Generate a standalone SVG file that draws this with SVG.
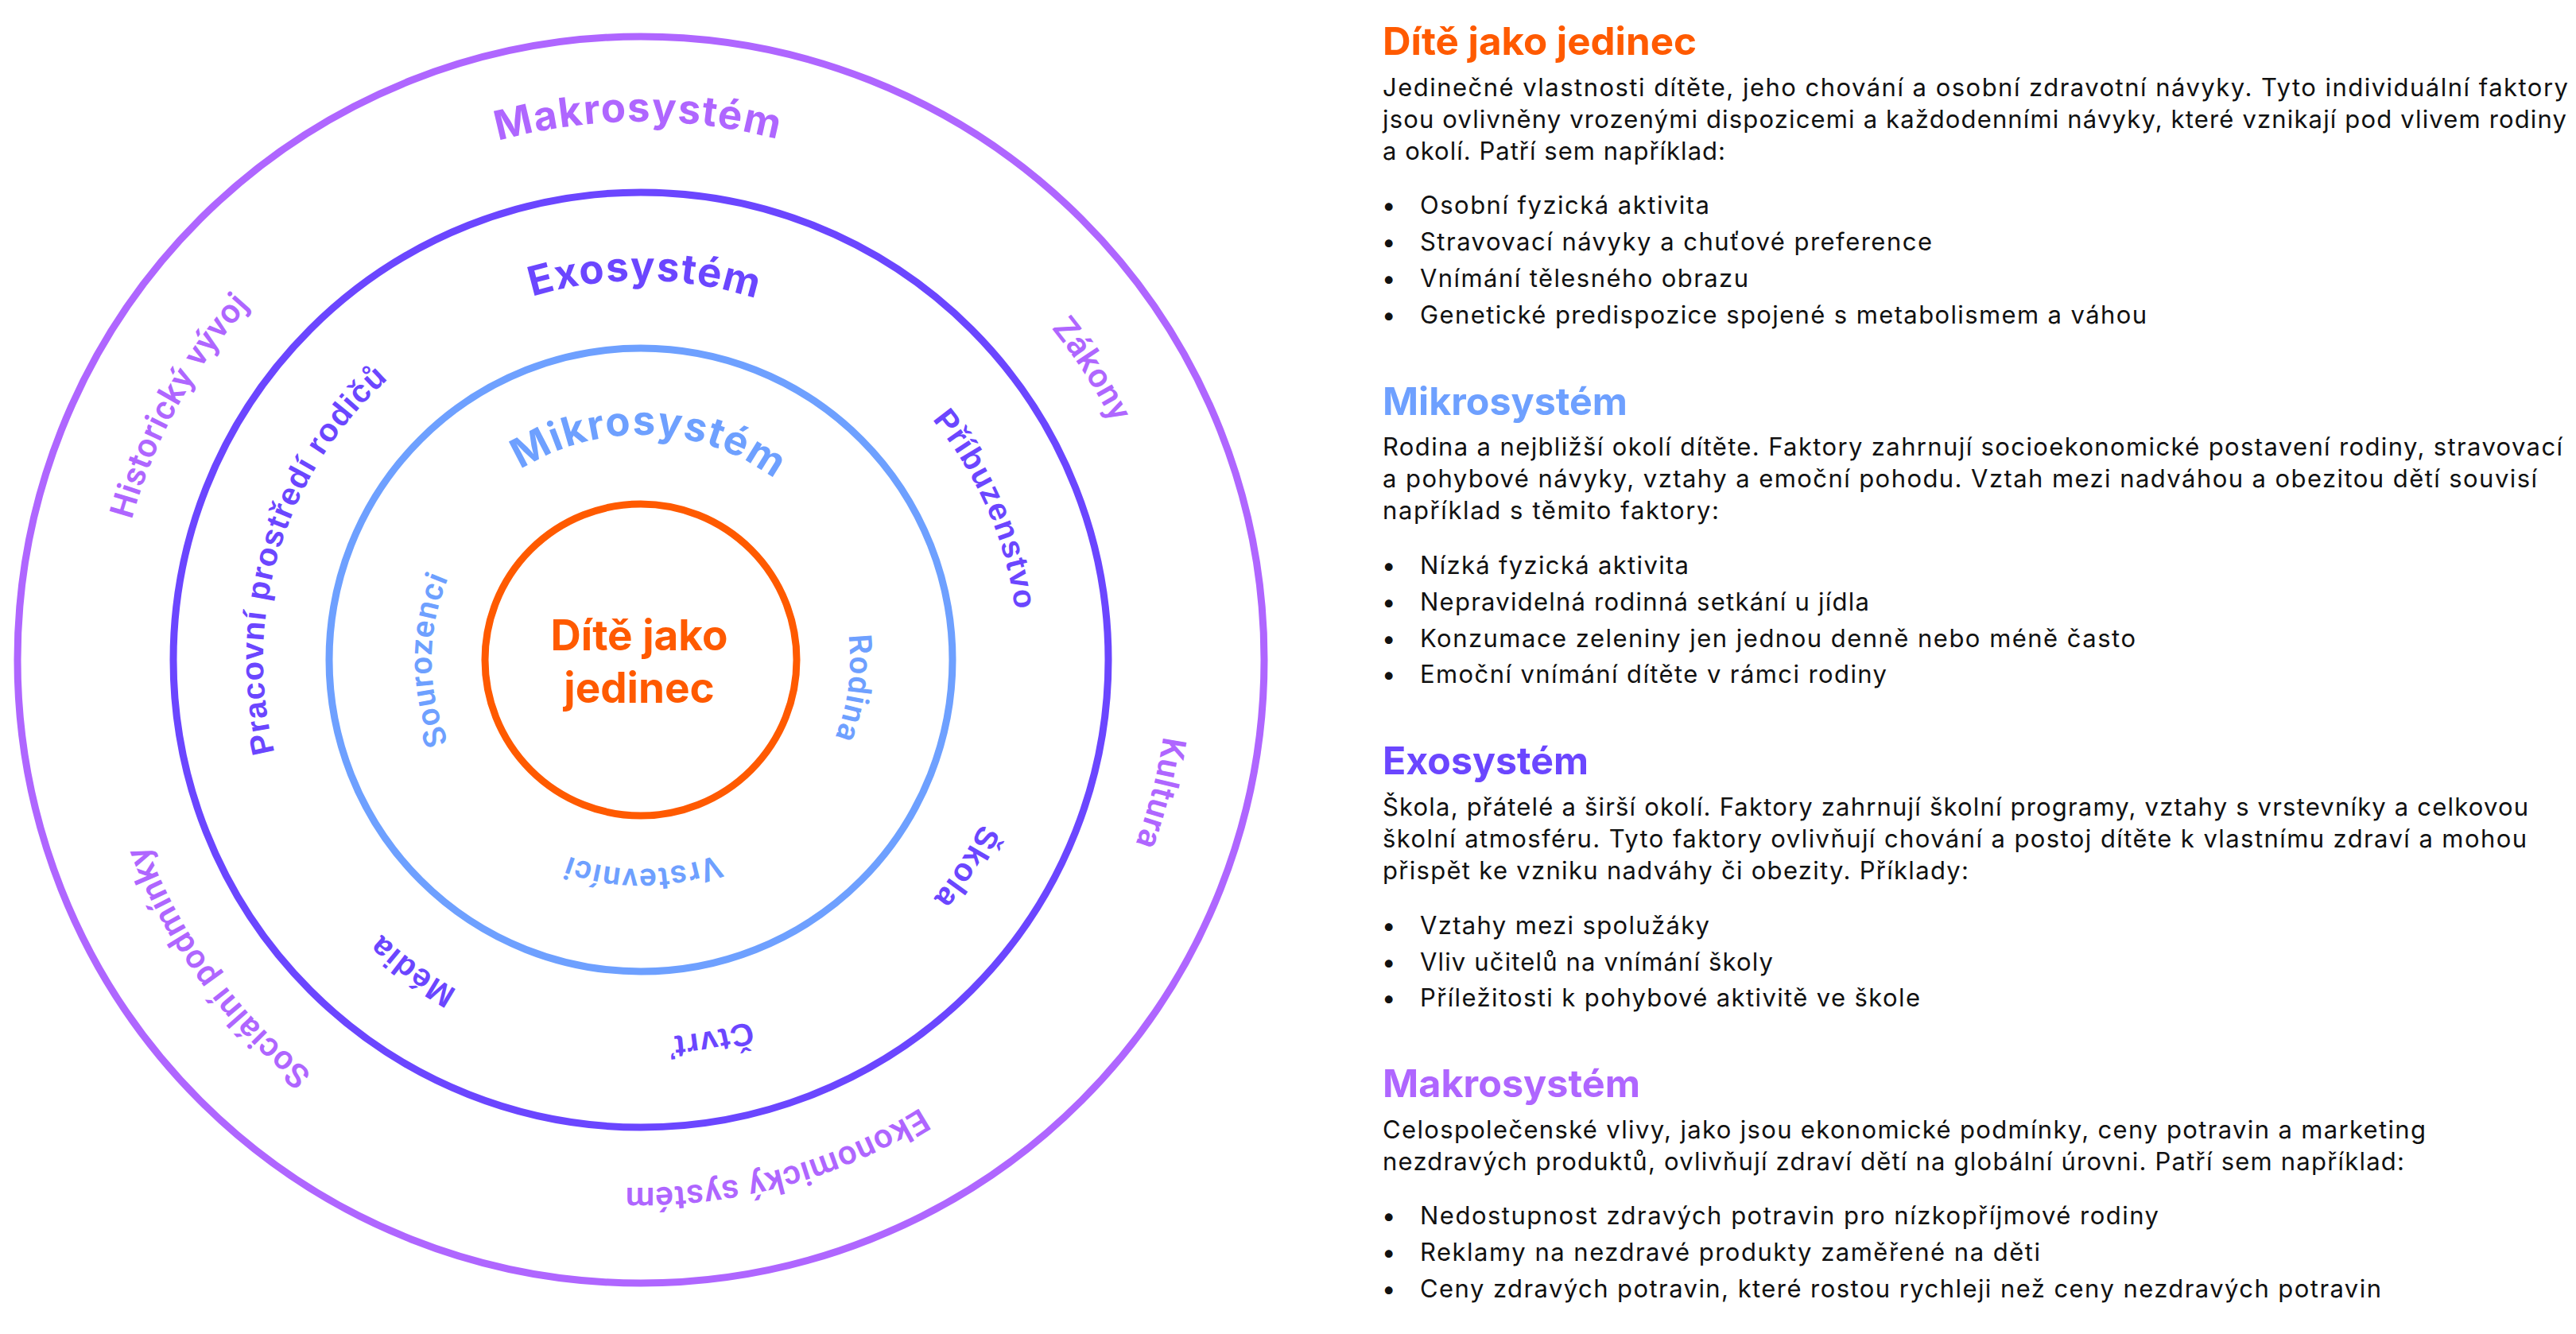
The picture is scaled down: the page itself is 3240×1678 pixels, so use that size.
<svg xmlns="http://www.w3.org/2000/svg" xmlns:xlink="http://www.w3.org/1999/xlink" width="3240" height="1678" viewBox="0 0 3240 1678">
<style>
.ring{fill:none;stroke-width:9}
.title{font-family:Inter,"Liberation Sans",sans-serif;font-weight:700;font-size:51px;letter-spacing:1.5px}
.lo{font-family:Roboto,"Liberation Sans",sans-serif;font-weight:600;font-size:42px;letter-spacing:0.8px;fill:#AF66FF}
.le{font-family:"Liberation Sans",Arial,sans-serif;font-weight:700;font-size:40px;letter-spacing:1.2px;fill:#6B46FF}
.lm{font-family:Roboto,"Liberation Sans",sans-serif;font-weight:600;font-size:40px;letter-spacing:1.3px;fill:#6EA0FF}
.center{font-family:Inter,"Liberation Sans",sans-serif;font-weight:700;font-size:53px;fill:#FF5A00}
.h{font-family:Inter,"Liberation Sans",sans-serif;font-weight:700;font-size:48px}
.b{font-family:Inter,"Liberation Sans",sans-serif;font-size:31px;fill:#111}
.cO{fill:#AF66FF}.cE{fill:#6B46FF}.cM{fill:#6EA0FF}.cD{fill:#FF5A00}
</style>
<defs>
<path id="T664" d="M806,166 A664,664 0 1 1 806,1494 A664,664 0 1 1 806,166"/>
<path id="T475" d="M806,355 A475,475 0 1 1 806,1305 A475,475 0 1 1 806,355"/>
<path id="T263" d="M806,567 A263,263 0 1 1 806,1093 A263,263 0 1 1 806,567"/>
<path id="B677" d="M806,1507 A677,677 0 1 1 806,153 A677,677 0 1 1 806,1507"/>
<path id="B477" d="M806,1307 A477,477 0 1 1 806,353 A477,477 0 1 1 806,1307"/>
<path id="B283" d="M806,1113 A283,283 0 1 1 806,547 A283,283 0 1 1 806,1113"/>
</defs>
<rect width="3240" height="1678" fill="#fff"/>

<g id="ring-makrosystem">
<circle class="ring" cx="806" cy="830" r="784" stroke="#AF66FF"/>
<text class="title cO"><textPath href="#B677" startOffset="49.92%" text-anchor="middle">Makrosystém</textPath></text>
<text class="lo"><textPath href="#T664" startOffset="83.0%" text-anchor="middle">Historický vývoj</textPath></text>
<text class="lo"><textPath href="#T664" startOffset="15.9%" text-anchor="middle">Zákony</textPath></text>
<text class="lo"><textPath href="#T664" startOffset="29.0%" text-anchor="middle">Kultura</textPath></text>
<text class="lo"><textPath href="#T664" startOffset="45.8%" text-anchor="middle">Ekonomický systém</textPath></text>
<text class="lo"><textPath href="#T664" startOffset="65.0%" text-anchor="middle">Sociální podmínky</textPath></text>
</g>

<g id="ring-exosystem">
<circle class="ring" cx="806" cy="830" r="588" stroke="#6B46FF"/>
<text class="title cE"><textPath href="#B477" startOffset="50.17%" text-anchor="middle">Exosystém</textPath></text>
<text class="le"><textPath href="#T475" startOffset="79.72%" text-anchor="middle">Pracovní prostředí rodičů</textPath></text>
<text class="le"><textPath href="#T475" startOffset="18.47%" text-anchor="middle">Příbuzenstvo</textPath></text>
<text class="le"><textPath href="#T475" startOffset="34.03%" text-anchor="middle">Škola</textPath></text>
<text class="le"><textPath href="#T475" startOffset="47.08%" text-anchor="middle">Čtvrť</textPath></text>
<text class="le"><textPath href="#T475" startOffset="60.08%" text-anchor="middle">Média</textPath></text>
</g>

<g id="ring-mikrosystem">
<circle class="ring" cx="806" cy="830" r="392" stroke="#6EA0FF"/>
<text class="title cM"><textPath href="#B283" startOffset="50.61%" text-anchor="middle">Mikrosystém</textPath></text>
<text class="lm"><textPath href="#T263" startOffset="75%" text-anchor="middle">Sourozenci</textPath></text>
<text class="lm"><textPath href="#T263" startOffset="27.11%" text-anchor="middle">Rodina</textPath></text>
<text class="lm"><textPath href="#T263" startOffset="49.86%" text-anchor="middle">Vrstevníci</textPath></text>
</g>

<g id="ring-dite">
<circle class="ring" cx="806" cy="830" r="196" stroke="#FF5A00"/>
<text class="center" x="804" y="818" text-anchor="middle">Dítě jako</text>
<text class="center" x="804" y="884" text-anchor="middle">jedinec</text>
</g>

<g id="legend-dite">
<text class="h cD" x="1739" y="69" textLength="395" lengthAdjust="spacingAndGlyphs">Dítě jako jedinec</text>
<text class="b" x="1739" y="121" textLength="1491">Jedinečné vlastnosti dítěte, jeho chování a osobní zdravotní návyky. Tyto individuální faktory</text>
<text class="b" x="1739" y="161" textLength="1489">jsou ovlivněny vrozenými dispozicemi a každodenními návyky, které vznikají pod vlivem rodiny</text>
<text class="b" x="1739" y="201" textLength="431">a okolí. Patří sem například:</text>
<text class="b" x="1738" y="269">•</text><text class="b" x="1786" y="269" textLength="364">Osobní fyzická aktivita</text>
<text class="b" x="1738" y="315">•</text><text class="b" x="1786" y="315" textLength="644">Stravovací návyky a chuťové preference</text>
<text class="b" x="1738" y="361">•</text><text class="b" x="1786" y="361" textLength="413">Vnímání tělesného obrazu</text>
<text class="b" x="1738" y="407">•</text><text class="b" x="1786" y="407" textLength="914">Genetické predispozice spojené s metabolismem a váhou</text>
</g>

<g id="legend-mikrosystem">
<text class="h cM" x="1739" y="522" textLength="308" lengthAdjust="spacingAndGlyphs">Mikrosystém</text>
<text class="b" x="1739" y="573" textLength="1484">Rodina a nejbližší okolí dítěte. Faktory zahrnují socioekonomické postavení rodiny, stravovací</text>
<text class="b" x="1739" y="613" textLength="1452">a pohybové návyky, vztahy a emoční pohodu. Vztah mezi nadváhou a obezitou dětí souvisí</text>
<text class="b" x="1739" y="653" textLength="423">například s těmito faktory:</text>
<text class="b" x="1738" y="722">•</text><text class="b" x="1786" y="722" textLength="338">Nízká fyzická aktivita</text>
<text class="b" x="1738" y="768">•</text><text class="b" x="1786" y="768" textLength="565">Nepravidelná rodinná setkání u jídla</text>
<text class="b" x="1738" y="814">•</text><text class="b" x="1786" y="814" textLength="900">Konzumace zeleniny jen jednou denně nebo méně často</text>
<text class="b" x="1738" y="859">•</text><text class="b" x="1786" y="859" textLength="587">Emoční vnímání dítěte v rámci rodiny</text>
</g>

<g id="legend-exosystem">
<text class="h cE" x="1739" y="974" textLength="259" lengthAdjust="spacingAndGlyphs">Exosystém</text>
<text class="b" x="1739" y="1026" textLength="1441">Škola, přátelé a širší okolí. Faktory zahrnují školní programy, vztahy s vrstevníky a celkovou</text>
<text class="b" x="1739" y="1066" textLength="1439">školní atmosféru. Tyto faktory ovlivňují chování a postoj dítěte k vlastnímu zdraví a mohou</text>
<text class="b" x="1739" y="1106" textLength="737">přispět ke vzniku nadváhy či obezity. Příklady:</text>
<text class="b" x="1738" y="1175">•</text><text class="b" x="1786" y="1175" textLength="364">Vztahy mezi spolužáky</text>
<text class="b" x="1738" y="1221">•</text><text class="b" x="1786" y="1221" textLength="444">Vliv učitelů na vnímání školy</text>
<text class="b" x="1738" y="1266">•</text><text class="b" x="1786" y="1266" textLength="629">Příležitosti k pohybové aktivitě ve škole</text>
</g>

<g id="legend-makrosystem">
<text class="h cO" x="1739" y="1380" textLength="324" lengthAdjust="spacingAndGlyphs">Makrosystém</text>
<text class="b" x="1739" y="1432" textLength="1312">Celospolečenské vlivy, jako jsou ekonomické podmínky, ceny potravin a marketing</text>
<text class="b" x="1739" y="1472" textLength="1285">nezdravých produktů, ovlivňují zdraví dětí na globální úrovni. Patří sem například:</text>
<text class="b" x="1738" y="1540">•</text><text class="b" x="1786" y="1540" textLength="929">Nedostupnost zdravých potravin pro nízkopříjmové rodiny</text>
<text class="b" x="1738" y="1586">•</text><text class="b" x="1786" y="1586" textLength="780">Reklamy na nezdravé produkty zaměřené na děti</text>
<text class="b" x="1738" y="1632">•</text><text class="b" x="1786" y="1632" textLength="1209">Ceny zdravých potravin, které rostou rychleji než ceny nezdravých potravin</text>
</g>
</svg>
